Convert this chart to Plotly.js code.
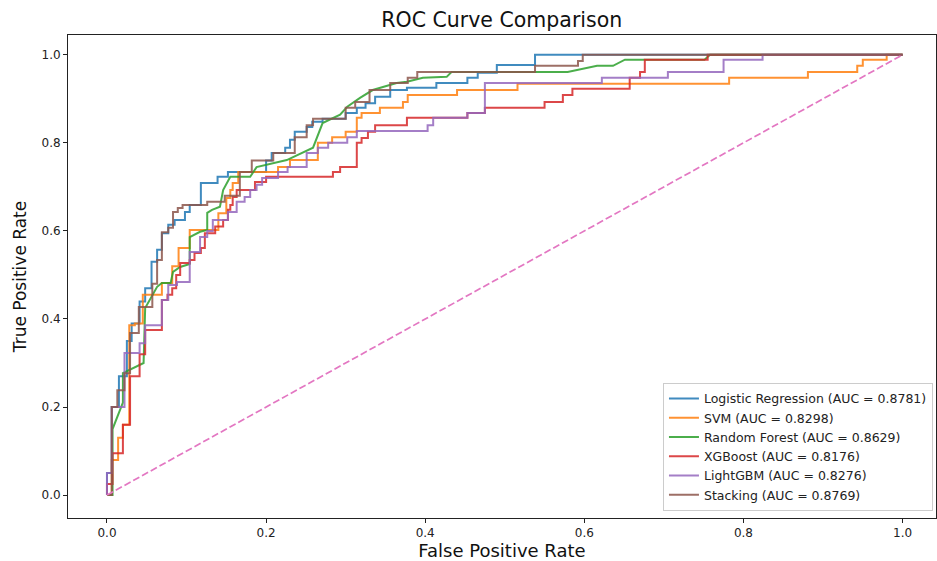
<!DOCTYPE html>
<html>
<head>
<meta charset="utf-8">
<script src="https://cdn.plot.ly/plotly-3.0.1.min.js"></script>
<style>
html,body{margin:0;padding:0;background:#fff;}
#chart{width:937px;height:561px;}
</style>
</head>
<body>
<div id="chart"></div>
<script>
// ROC data (corner points; stepped curves use "hv")
const lrFpr = [0, 0, 0.006, 0.015, 0.025, 0.031, 0.041, 0.048, 0.056, 0.063, 0.069, 0.077, 0.085, 0.098, 0.104, 0.118, 0.139, 0.152, 0.2, 0.207, 0.224, 0.23, 0.236, 0.251, 0.258, 0.271, 0.3, 0.314, 0.325, 0.337, 0.356, 0.377, 0.414, 0.453, 0.466, 0.49, 0.538, 1.0];
const lrTpr = [0, 0.05, 0.2, 0.27, 0.35, 0.39, 0.44, 0.47, 0.53, 0.557, 0.595, 0.614, 0.625, 0.643, 0.659, 0.709, 0.723, 0.734, 0.76, 0.777, 0.789, 0.807, 0.825, 0.836, 0.848, 0.855, 0.868, 0.88, 0.89, 0.905, 0.92, 0.925, 0.936, 0.948, 0.959, 0.977, 1.0, 1.0];

const svmFpr = [0, 0.006, 0.014, 0.02, 0.028, 0.035, 0.045, 0.069, 0.082, 0.09, 0.104, 0.14, 0.15, 0.155, 0.158, 0.165, 0.215, 0.23, 0.265, 0.283, 0.3, 0.314, 0.32, 0.343, 0.372, 0.378, 0.44, 0.516, 0.782, 0.881, 0.943, 0.95, 0.98, 1.0];
const svmTpr = [0, 0.08, 0.13, 0.16, 0.386, 0.39, 0.455, 0.482, 0.52, 0.561, 0.602, 0.64, 0.675, 0.693, 0.709, 0.734, 0.745, 0.761, 0.8, 0.813, 0.825, 0.857, 0.868, 0.88, 0.893, 0.909, 0.92, 0.934, 0.948, 0.961, 0.975, 0.989, 1.0, 1.0];

const rfFpr = [0, 0.007, 0.007, 0.02, 0.02, 0.041, 0.046, 0.048, 0.063, 0.069, 0.08, 0.083, 0.092, 0.104, 0.104, 0.117, 0.126, 0.126, 0.132, 0.142, 0.146, 0.155, 0.18, 0.188, 0.226, 0.259, 0.271, 0.293, 0.302, 0.318, 0.334, 0.364, 0.377, 0.397, 0.427, 0.433, 0.579, 0.616, 0.636, 0.651, 0.751, 0.758, 1.0];
const rfTpr = [0, 0, 0.15, 0.21, 0.277, 0.295, 0.3, 0.425, 0.473, 0.482, 0.482, 0.507, 0.518, 0.525, 0.586, 0.598, 0.602, 0.641, 0.648, 0.655, 0.693, 0.723, 0.723, 0.745, 0.761, 0.789, 0.845, 0.864, 0.882, 0.902, 0.92, 0.936, 0.939, 0.948, 0.95, 0.961, 0.961, 0.975, 0.975, 0.989, 0.989, 1.0, 1.0];

const xgbFpr = [0, 0, 0.007, 0.02, 0.029, 0.041, 0.048, 0.069, 0.076, 0.082, 0.087, 0.092, 0.104, 0.11, 0.118, 0.123, 0.136, 0.146, 0.152, 0.155, 0.158, 0.163, 0.186, 0.2, 0.284, 0.293, 0.314, 0.32, 0.328, 0.337, 0.377, 0.453, 0.475, 0.55, 0.573, 0.585, 0.657, 0.67, 0.676, 0.755, 1.0];
const xgbTpr = [0, 0.025, 0.095, 0.16, 0.27, 0.32, 0.375, 0.443, 0.455, 0.47, 0.5, 0.527, 0.534, 0.55, 0.561, 0.595, 0.61, 0.625, 0.648, 0.659, 0.677, 0.693, 0.711, 0.723, 0.734, 0.745, 0.8, 0.811, 0.825, 0.84, 0.857, 0.868, 0.88, 0.893, 0.909, 0.923, 0.948, 0.961, 0.989, 1.0, 1.0];

const lgbFpr = [0, 0, 0.006, 0.022, 0.041, 0.048, 0.069, 0.077, 0.088, 0.104, 0.117, 0.126, 0.133, 0.152, 0.163, 0.173, 0.18, 0.188, 0.195, 0.215, 0.227, 0.251, 0.265, 0.278, 0.302, 0.314, 0.403, 0.41, 0.453, 0.475, 0.622, 0.705, 0.775, 0.824, 1.0];
const lgbTpr = [0, 0.05, 0.2, 0.323, 0.345, 0.386, 0.443, 0.477, 0.484, 0.552, 0.586, 0.6, 0.625, 0.643, 0.666, 0.677, 0.693, 0.705, 0.72, 0.734, 0.745, 0.777, 0.789, 0.8, 0.813, 0.827, 0.84, 0.857, 0.868, 0.936, 0.948, 0.961, 0.989, 1.0, 1.0];

const stkFpr = [0, 0.006, 0.013, 0.022, 0.029, 0.04, 0.057, 0.063, 0.069, 0.077, 0.083, 0.089, 0.095, 0.126, 0.148, 0.167, 0.182, 0.209, 0.236, 0.251, 0.259, 0.3, 0.312, 0.33, 0.356, 0.378, 0.39, 0.538, 0.592, 0.598, 1.0];
const stkTpr = [0, 0.2, 0.238, 0.277, 0.368, 0.427, 0.48, 0.534, 0.597, 0.607, 0.643, 0.652, 0.659, 0.666, 0.68, 0.734, 0.76, 0.777, 0.813, 0.84, 0.855, 0.88, 0.893, 0.92, 0.936, 0.948, 0.961, 0.975, 0.986, 1.0, 1.0];

const chanceX = [0, 1];
const chanceY = [0, 1];

const modelNames = ["Logistic Regression", "SVM", "Random Forest", "XGBoost", "LightGBM", "Stacking"];
const aucValues = ["0.8781", "0.8298", "0.8629", "0.8176", "0.8276", "0.8769"];
const xTickVals = [0, 0.2, 0.4, 0.6, 0.8, 1.0];
const yTickVals = [0, 0.2, 0.4, 0.6, 0.8, 1.0];

const colors = ["#1f77b4", "#ff7f0e", "#2ca02c", "#d62728", "#9467bd", "#8c564b"];
const series = [
  [lrFpr, lrTpr, "hv"],
  [svmFpr, svmTpr, "hv"],
  [rfFpr, rfTpr, "linear"],
  [xgbFpr, xgbTpr, "hv"],
  [lgbFpr, lgbTpr, "hv"],
  [stkFpr, stkTpr, "hv"]
];

const font = "DejaVu Sans, sans-serif";
const traces = series.map((s, i) => ({
  x: s[0], y: s[1], type: "scatter", mode: "lines",
  name: modelNames[i] + " (AUC = " + aucValues[i] + ")",
  line: {color: colors[i], width: 2, shape: s[2]},
  opacity: 0.85
}));
traces.push({
  x: chanceX, y: chanceY, type: "scatter", mode: "lines", showlegend: false,
  line: {color: "#e377c2", width: 1.7, dash: "7px,3px"}
});

const axisCommon = {
  showgrid: false, zeroline: false, showline: true, mirror: true,
  linecolor: "#222", linewidth: 1, ticks: "outside", ticklen: 4, tickwidth: 1,
  tickcolor: "#222", tickformat: ".1f",
  tickfont: {family: font, size: 12, color: "#222"}
};

const layout = {
  width: 937, height: 561,
  margin: {l: 68, r: 1, t: 35, b: 43},
  paper_bgcolor: "#fff", plot_bgcolor: "#fff",
  title: {text: "ROC Curve Comparison", x: 0.5355, xanchor: "center", y: 0.965, yanchor: "middle",
          font: {family: font, size: 20.5, color: "#111"}},
  xaxis: Object.assign({}, axisCommon, {
    range: [-0.049, 1.042], tickvals: xTickVals,
    title: {text: "False Positive Rate", standoff: 5, font: {family: font, size: 18, color: "#111"}}
  }),
  yaxis: Object.assign({}, axisCommon, {
    range: [-0.052, 1.045], tickvals: yTickVals,
    title: {text: "True Positive Rate", standoff: 10, font: {family: font, size: 17, color: "#111"}}
  }),
  showlegend: true,
  legend: {
    x: 0.9965, xanchor: "right", y: 0.015, yanchor: "bottom",
    bgcolor: "rgba(255,255,255,0.85)", bordercolor: "#cccccc", borderwidth: 1,
    font: {family: font, size: 12.5, color: "#222"},
    tracegroupgap: 0
  }
};

Plotly.newPlot("chart", traces, layout, {displayModeBar: false, staticPlot: true});
</script>
</body>
</html>
